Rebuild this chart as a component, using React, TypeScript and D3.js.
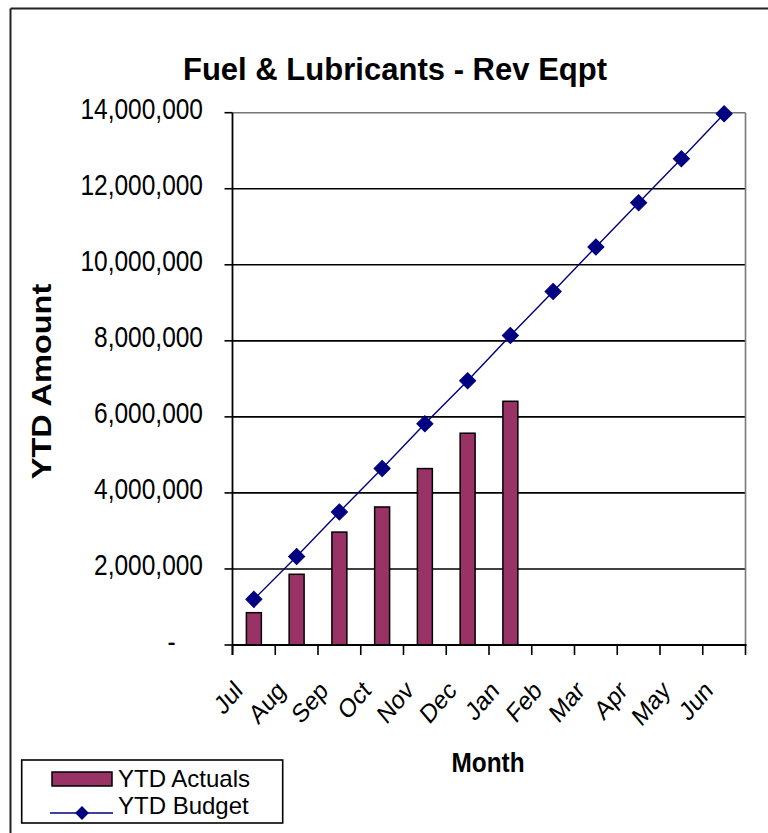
import React from "react";
import * as d3 from "d3";

const months = ["Jul", "Aug", "Sep", "Oct", "Nov", "Dec", "Jan", "Feb", "Mar", "Apr", "May", "Jun"];
const actualMonths = ["Jul", "Aug", "Sep", "Oct", "Nov", "Dec", "Jan"];
const ytdActuals = [850000, 1860000, 2970000, 3630000, 4640000, 5570000, 6410000];
const ytdBudget = [1200000, 2330000, 3500000, 4640000, 5820000, 6950000, 8140000, 9300000, 10470000, 11630000, 12790000, 13970000];
const yTicks = [0, 2000000, 4000000, 6000000, 8000000, 10000000, 12000000, 14000000];
const yTickLabels = ["-\u2007\u2007", "2,000,000", "4,000,000", "6,000,000", "8,000,000", "10,000,000", "12,000,000", "14,000,000"];
const title = "Fuel & Lubricants - Rev Eqpt";
const xTitle = "Month";
const yTitle = "YTD Amount";
const seriesNames = ["YTD Actuals", "YTD Budget"];

const W = 768;
const H = 833;
const plot = { left: 232.5, right: 745.5, top: 112.7, bottom: 645 };
const barColor = "#993366";
const lineColor = "#000080";
const font = "'Liberation Sans', Arial, sans-serif";

export default function App() {
  const x = d3.scaleBand<string>().domain(months).range([plot.left, plot.right]).padding(0);
  const y = d3.scaleLinear().domain([0, 14000000]).range([plot.bottom, plot.top]);
  const bw = x.bandwidth() * 0.35;
  const cx = (m: string) => (x(m) as number) + x.bandwidth() / 2;
  const line = d3
    .line<number>()
    .x((_, i) => cx(months[i]))
    .y((d) => y(d));
  const diamond = d3.symbol().type(d3.symbolSquare).size(130)() as string;
  const diamondSmall = d3.symbol().type(d3.symbolSquare).size(95)() as string;
  const tickXs = months.map((m) => x(m) as number).concat([plot.right]);

  return (
    <svg
      width={W}
      height={H}
      style={{ position: "absolute", left: 0, top: 0, background: "#fff" }}
      fontFamily={font}
    >
      <rect x={0} y={0} width={W} height={H} fill="#fff" />
      {/* outer chart border (top + left visible) */}
      <line x1={10.5} y1={8.5} x2={W} y2={8.5} stroke="#222" strokeWidth={2} />
      <line x1={10.5} y1={8.5} x2={10.5} y2={H} stroke="#222" strokeWidth={2} />

      {/* title */}
      <g transform={`translate(395,80) scale(0.97,1)`}>
        <text textAnchor="middle" fontSize={32} fontWeight="bold" fill="#000">
          {title}
        </text>
      </g>

      {/* gridlines */}
      {yTicks.slice(1, -1).map((t) => (
        <line key={t} x1={plot.left} x2={plot.right} y1={y(t)} y2={y(t)} stroke="#000" strokeWidth={1.6} />
      ))}
      {/* plot area border top/right */}
      <line x1={plot.left} x2={plot.right} y1={plot.top} y2={plot.top} stroke="#777" strokeWidth={1.6} />
      <line x1={plot.right} x2={plot.right} y1={plot.top} y2={plot.bottom} stroke="#777" strokeWidth={1.6} />

      {/* bars */}
      {ytdActuals.map((v, i) => (
        <rect
          key={actualMonths[i]}
          x={cx(actualMonths[i]) - bw / 2}
          y={y(v)}
          width={bw}
          height={plot.bottom - y(v)}
          fill={barColor}
          stroke="#000"
          strokeWidth={1.5}
        />
      ))}

      {/* axes */}
      <line x1={plot.left} x2={plot.left} y1={plot.top} y2={plot.bottom + 10} stroke="#000" strokeWidth={1.8} />
      <line x1={plot.left} x2={plot.right + 1} y1={plot.bottom} y2={plot.bottom} stroke="#000" strokeWidth={1.8} />
      {yTicks.map((t, i) => (
        <g key={t}>
          <line x1={plot.left - 8} x2={plot.left} y1={y(t)} y2={y(t)} stroke="#000" strokeWidth={1.6} />
          <g transform={`translate(203,${y(t) + 6.5}) scale(0.845,1)`}>
            <text textAnchor="end" fontSize={29} fill="#000" style={{ whiteSpace: "pre" }}>
              {yTickLabels[i]}
            </text>
          </g>
        </g>
      ))}
      {tickXs.map((tx, i) => (
        <line key={i} x1={tx} x2={tx} y1={plot.bottom} y2={plot.bottom + 10} stroke="#000" strokeWidth={1.6} />
      ))}
      {months.map((m) => (
        <g key={m} transform={`translate(${cx(m) - 10},692) scale(0.85,1) rotate(-45)`}>
          <text textAnchor="end" fontSize={26.5} fill="#000">
            {m}
          </text>
        </g>
      ))}

      {/* budget line */}
      <path d={line(ytdBudget) as string} fill="none" stroke={lineColor} strokeWidth={1.4} />
      {ytdBudget.map((v, i) => (
        <path
          key={months[i]}
          d={diamond}
          transform={`translate(${cx(months[i])},${y(v)}) rotate(45)`}
          fill={lineColor}
          stroke={lineColor}
          strokeWidth={1}
        />
      ))}

      {/* axis titles */}
      <g transform={`translate(488,772) scale(0.87,1)`}>
        <text textAnchor="middle" fontSize={28} fontWeight="bold" fill="#000">
          {xTitle}
        </text>
      </g>
      <g transform={`translate(51,381.5) rotate(-90) scale(1,0.84)`}>
        <text textAnchor="middle" fontSize={32.5} fontWeight="bold" fill="#000">
          {yTitle}
        </text>
      </g>

      {/* legend */}
      <rect x={21.7} y={760} width={261} height={63} fill="#fff" stroke="#000" strokeWidth={1.6} />
      <rect x={52} y={772} width={60} height={14} fill={barColor} stroke="#000" strokeWidth={1.5} />
      <text x={118} y={786.5} fontSize={24} fill="#000">
        {seriesNames[0]}
      </text>
      <line x1={50} x2={113} y1={813} y2={813} stroke={lineColor} strokeWidth={1.6} />
      <path d={diamondSmall} transform="translate(82,813) rotate(45)" fill={lineColor} />
      <text x={118} y={814} fontSize={24} fill="#000">
        {seriesNames[1]}
      </text>
    </svg>
  );
}
